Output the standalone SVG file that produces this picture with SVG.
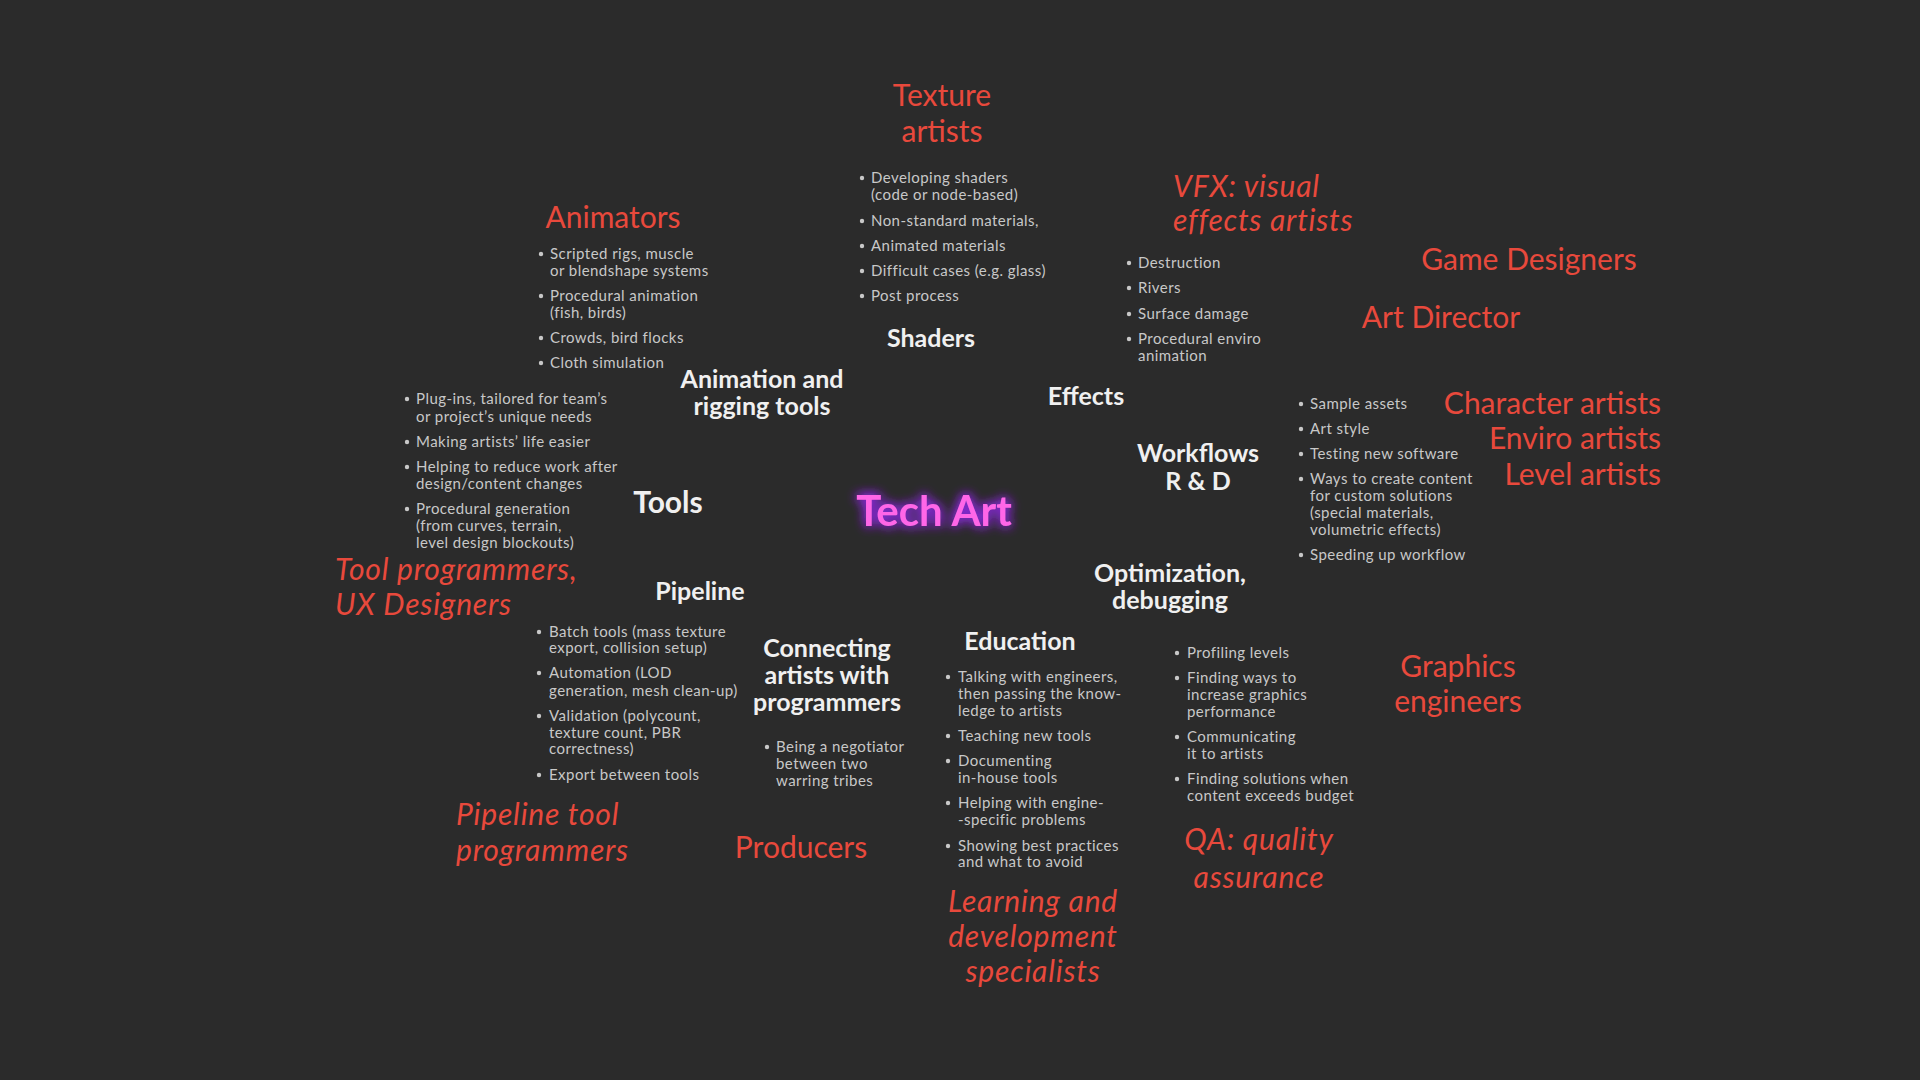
<svg xmlns="http://www.w3.org/2000/svg" width="1920" height="1080" viewBox="0 0 1920 1080">
<defs>
<style>
.bg{fill:#2b2b2b}
.role{font-family:Lato,"Open Sans","Noto Sans",sans-serif;font-size:30px;fill:#e8493c}
.it{font-style:italic;letter-spacing:0.8px}
.mid{text-anchor:middle}
.end{text-anchor:end}
.head{font-family:Lato,"Open Sans","Noto Sans",sans-serif;font-weight:bold;font-size:25px;fill:#f0f0f0;text-anchor:middle}
.big{font-size:30px}
.b{font-family:Lato,"Open Sans","Noto Sans",sans-serif;font-size:15px;letter-spacing:0.45px;fill:#c8c8c8}
.dot{fill:#c8c8c8}
.core{font-family:Lato,"Open Sans","Noto Sans",sans-serif;font-weight:bold;font-size:42px;fill:#ff66e8;text-anchor:middle}
</style>
<filter id="glow" x="-30%" y="-60%" width="160%" height="220%">
<feGaussianBlur in="SourceAlpha" stdDeviation="6" result="bl"/>
<feFlood flood-color="#9d2bff" flood-opacity="0.9"/>
<feComposite in2="bl" operator="in" result="g"/>
<feMerge><feMergeNode in="g"/><feMergeNode in="g"/><feMergeNode in="SourceGraphic"/></feMerge>
</filter>
</defs>
<rect class="bg" x="0" y="0" width="1920" height="1080"/>

<g id="tech-art"><text class="core" x="934" y="526" filter="url(#glow)">Tech Art</text></g>

<g id="texture-artists"><text class="role mid" x="942" y="106">Texture</text><text class="role mid" x="942" y="142">artists</text></g>

<g id="shaders">
<text class="head" x="931" y="347">Shaders</text>
<circle class="dot" cx="862" cy="178" r="2.2"/><text class="b" x="871" y="183">Developing shaders</text><text class="b" x="871" y="200">(code or node-based)</text>
<circle class="dot" cx="862" cy="221" r="2.2"/><text class="b" x="871" y="226">Non-standard materials,</text>
<circle class="dot" cx="862" cy="246" r="2.2"/><text class="b" x="871" y="251">Animated materials</text>
<circle class="dot" cx="862" cy="271" r="2.2"/><text class="b" x="871" y="276">Difficult cases (e.g. glass)</text>
<circle class="dot" cx="862" cy="296" r="2.2"/><text class="b" x="871" y="301">Post process</text>
</g>

<g id="animators"><text class="role mid" x="613" y="228">Animators</text></g>

<g id="animation-rigging">
<text class="head" x="762" y="388">Animation and</text><text class="head" x="762" y="415">rigging tools</text>
<circle class="dot" cx="541" cy="254" r="2.2"/><text class="b" x="550" y="259">Scripted rigs, muscle</text><text class="b" x="550" y="276">or blendshape systems</text>
<circle class="dot" cx="541" cy="296" r="2.2"/><text class="b" x="550" y="301">Procedural animation</text><text class="b" x="550" y="318">(fish, birds)</text>
<circle class="dot" cx="541" cy="338" r="2.2"/><text class="b" x="550" y="343">Crowds, bird flocks</text>
<circle class="dot" cx="541" cy="363" r="2.2"/><text class="b" x="550" y="368">Cloth simulation</text>
</g>

<g id="vfx-artists"><text class="role it" x="1173" y="197">VFX: visual</text><text class="role it" x="1173" y="231">effects artists</text></g>

<g id="effects">
<text class="head" x="1086" y="405">Effects</text>
<circle class="dot" cx="1129" cy="263" r="2.2"/><text class="b" x="1138" y="268">Destruction</text>
<circle class="dot" cx="1129" cy="288" r="2.2"/><text class="b" x="1138" y="293">Rivers</text>
<circle class="dot" cx="1129" cy="314" r="2.2"/><text class="b" x="1138" y="319">Surface damage</text>
<circle class="dot" cx="1129" cy="339" r="2.2"/><text class="b" x="1138" y="344">Procedural enviro</text><text class="b" x="1138" y="361">animation</text>
</g>

<g id="game-designers"><text class="role mid" x="1529" y="270">Game Designers</text></g>
<g id="art-director"><text class="role mid" x="1441" y="328">Art Director</text></g>
<g id="artists">
<text class="role end" x="1661" y="414">Character artists</text>
<text class="role end" x="1661" y="449">Enviro artists</text>
<text class="role end" x="1661" y="485">Level artists</text>
</g>

<g id="workflows">
<text class="head" x="1198" y="462">Workflows</text><text class="head" x="1198" y="490">R &amp; D</text>
<circle class="dot" cx="1301" cy="404" r="2.2"/><text class="b" x="1310" y="409">Sample assets</text>
<circle class="dot" cx="1301" cy="429" r="2.2"/><text class="b" x="1310" y="434">Art style</text>
<circle class="dot" cx="1301" cy="454" r="2.2"/><text class="b" x="1310" y="459">Testing new software</text>
<circle class="dot" cx="1301" cy="479" r="2.2"/><text class="b" x="1310" y="484">Ways to create content</text><text class="b" x="1310" y="501">for custom solutions</text><text class="b" x="1310" y="518">(special materials,</text><text class="b" x="1310" y="535">volumetric effects)</text>
<circle class="dot" cx="1301" cy="555" r="2.2"/><text class="b" x="1310" y="560">Speeding up workflow</text>
</g>

<g id="tools">
<text class="head big" x="668" y="513">Tools</text>
<circle class="dot" cx="407" cy="399" r="2.2"/><text class="b" x="416" y="404">Plug-ins, tailored for team’s</text><text class="b" x="416" y="422">or project’s unique needs</text>
<circle class="dot" cx="407" cy="442" r="2.2"/><text class="b" x="416" y="447">Making artists’ life easier</text>
<circle class="dot" cx="407" cy="467" r="2.2"/><text class="b" x="416" y="472">Helping to reduce work after</text><text class="b" x="416" y="489">design/content changes</text>
<circle class="dot" cx="407" cy="509" r="2.2"/><text class="b" x="416" y="514">Procedural generation</text><text class="b" x="416" y="531">(from curves, terrain,</text><text class="b" x="416" y="548">level design blockouts)</text>
</g>

<g id="tool-programmers"><text class="role it" x="335" y="580">Tool programmers,</text><text class="role it" x="335" y="615">UX Designers</text></g>

<g id="pipeline">
<text class="head" x="700" y="600">Pipeline</text>
<circle class="dot" cx="539" cy="632" r="2.2"/><text class="b" x="549" y="637">Batch tools (mass texture</text><text class="b" x="549" y="653">export, collision setup)</text>
<circle class="dot" cx="539" cy="673" r="2.2"/><text class="b" x="549" y="678">Automation (LOD</text><text class="b" x="549" y="696">generation, mesh clean-up)</text>
<circle class="dot" cx="539" cy="716" r="2.2"/><text class="b" x="549" y="721">Validation (polycount,</text><text class="b" x="549" y="738">texture count, PBR</text><text class="b" x="549" y="754">correctness)</text>
<circle class="dot" cx="539" cy="775" r="2.2"/><text class="b" x="549" y="780">Export between tools</text>
</g>

<g id="pipeline-tool-programmers"><text class="role it" x="456" y="825">Pipeline tool</text><text class="role it" x="456" y="861">programmers</text></g>

<g id="connecting">
<text class="head" x="827" y="657">Connecting</text><text class="head" x="827" y="684">artists with</text><text class="head" x="827" y="711">programmers</text>
<circle class="dot" cx="767" cy="747" r="2.2"/><text class="b" x="776" y="752">Being a negotiator</text><text class="b" x="776" y="769">between two</text><text class="b" x="776" y="786">warring tribes</text>
</g>

<g id="producers"><text class="role mid" x="801" y="858">Producers</text></g>

<g id="education">
<text class="head" x="1020" y="650">Education</text>
<circle class="dot" cx="948" cy="677" r="2.2"/><text class="b" x="958" y="682">Talking with engineers,</text><text class="b" x="958" y="699">then passing the know-</text><text class="b" x="958" y="716">ledge to artists</text>
<circle class="dot" cx="948" cy="736" r="2.2"/><text class="b" x="958" y="741">Teaching new tools</text>
<circle class="dot" cx="948" cy="761" r="2.2"/><text class="b" x="958" y="766">Documenting</text><text class="b" x="958" y="783">in-house tools</text>
<circle class="dot" cx="948" cy="803" r="2.2"/><text class="b" x="958" y="808">Helping with engine-</text><text class="b" x="958" y="825">-specific problems</text>
<circle class="dot" cx="948" cy="846" r="2.2"/><text class="b" x="958" y="851">Showing best practices</text><text class="b" x="958" y="867">and what to avoid</text>
</g>

<g id="learning-development"><text class="role it mid" x="1033" y="912">Learning and</text><text class="role it mid" x="1033" y="947">development</text><text class="role it mid" x="1033" y="982">specialists</text></g>

<g id="optimization">
<text class="head" x="1170" y="582">Optimization,</text><text class="head" x="1170" y="609">debugging</text>
<circle class="dot" cx="1177" cy="653" r="2.2"/><text class="b" x="1187" y="658">Profiling levels</text>
<circle class="dot" cx="1177" cy="678" r="2.2"/><text class="b" x="1187" y="683">Finding ways to</text><text class="b" x="1187" y="700">increase graphics</text><text class="b" x="1187" y="717">performance</text>
<circle class="dot" cx="1177" cy="737" r="2.2"/><text class="b" x="1187" y="742">Communicating</text><text class="b" x="1187" y="759">it to artists</text>
<circle class="dot" cx="1177" cy="779" r="2.2"/><text class="b" x="1187" y="784">Finding solutions when</text><text class="b" x="1187" y="801">content exceeds budget</text>
</g>

<g id="graphics-engineers"><text class="role mid" x="1458" y="677">Graphics</text><text class="role mid" x="1458" y="712">engineers</text></g>

<g id="qa"><text class="role it mid" x="1259" y="850">QA: quality</text><text class="role it mid" x="1259" y="888">assurance</text></g>
</svg>
